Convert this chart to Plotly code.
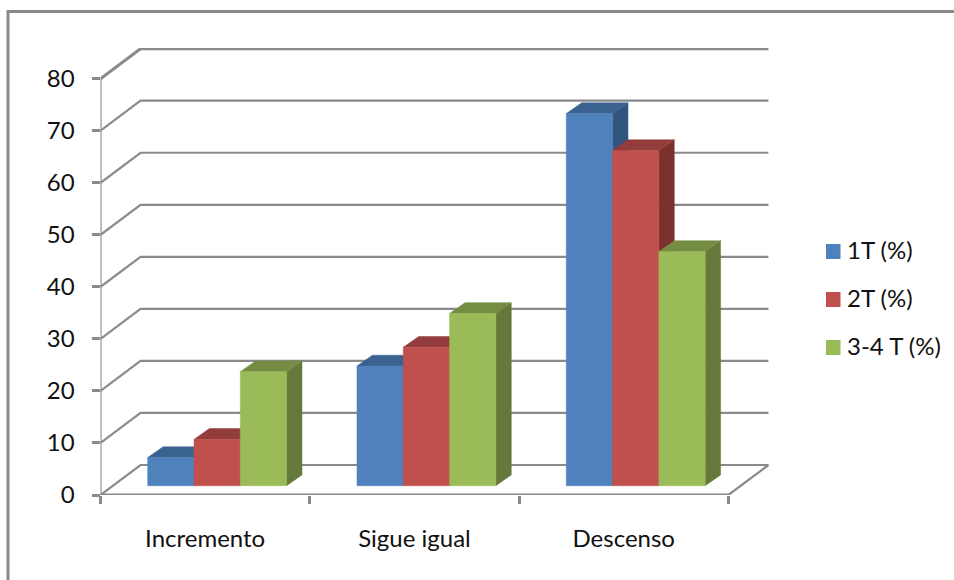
import plotly.graph_objects as go

categories = ["Incremento", "Sigue igual", "Descenso"]
series_names = ["1T (%)", "2T (%)", "3-4 T (%)"]
t1_values = [5.4, 23.0, 71.5]
t2_values = [8.9, 26.6, 64.4]
t34_values = [21.9, 33.1, 45.0]
y_ticks = [0, 10, 20, 30, 40, 50, 60, 70, 80]

W, H = 954, 580
GRID = "#8a8a8a"
FONT = dict(family="Lato, Carlito, sans-serif", size=24, color="#111111")

# pixel placement of the plot box
X0, CAT_W = 100.5, 209.3
Y0, UNIT = 495.0, 5.204
WALL_PX, WALL_PY = 40.0, 30.0

# oblique projection, expressed in axis units
wall_dx, wall_dy = WALL_PX / CAT_W, WALL_PY / UNIT
bar_dx, bar_dy = 15.4 / CAT_W, 10.8 / UNIT
plane_x, floor_y = 0.1695 + 11.7 / CAT_W, 9.3 / UNIT
bar_w = 46.3 / CAT_W

palette = [
    dict(front="#4F81BD", top="#3A6290", side="#325580"),
    dict(front="#C0504D", top="#923D3B", side="#7C302E"),
    dict(front="#9BBB59", top="#758D43", side="#65793A"),
]
values = [t1_values, t2_values, t34_values]

fig = go.Figure()


def line(xs, ys, width=2.0):
    fig.add_trace(go.Scatter(x=xs, y=ys, mode="lines", line=dict(color=GRID, width=width),
                             hoverinfo="skip", showlegend=False, cliponaxis=False))


def face(xs, ys, color, name):
    fig.add_trace(go.Scatter(x=xs + xs[:1], y=ys + ys[:1], mode="lines", fill="toself",
                             fillcolor=color, line=dict(color=color, width=0.5),
                             name=name, hoverinfo="name", showlegend=False))


# back wall gridlines and their diagonals running to the value axis
for v in y_ticks:
    width = 3.0 if v == 80 else 2.2
    line([0, wall_dx, len(categories) + wall_dx], [v, v + wall_dy, v + wall_dy], width)
line([len(categories), len(categories) + wall_dx], [0, wall_dy], 2.2)

# axis lines at the front of the floor
line([0, 0], [0, 80], 2.2)
line([0, len(categories)], [0, 0], 3.0)

# columns, left to right so nearer faces cover the earlier sides
for i, cat in enumerate(categories):
    for j, name in enumerate(series_names):
        c = palette[j]
        v = values[j][i]
        l = i + plane_x + j * bar_w
        r = l + bar_w
        b = floor_y
        t = floor_y + v
        label = f"{cat} - {name}: {v}"
        face([r, r + bar_dx, r + bar_dx, r], [b, b + bar_dy, t + bar_dy, t], c["side"], label)
        face([l, l + bar_dx, r + bar_dx, r], [t, t + bar_dy, t + bar_dy, t], c["top"], label)
        face([l, r, r, l], [b, b, t, t], c["front"], label)

# outer frame plus legend swatches and entries
shapes = [
    dict(type="line", xref="paper", yref="paper", x0=8 / W, x1=8 / W, y0=0, y1=1 - 10 / H,
         line=dict(color=GRID, width=3)),
    dict(type="line", xref="paper", yref="paper", x0=7 / W, x1=1, y0=1 - 11.5 / H, y1=1 - 11.5 / H,
         line=dict(color=GRID, width=3)),
]
annotations = []
for j, name in enumerate(series_names):
    top = 244 + j * 48
    shapes.append(dict(type="rect", xref="paper", yref="paper", x0=826 / W, x1=840.5 / W,
                       y0=1 - (top + 15) / H, y1=1 - top / H,
                       fillcolor=palette[j]["front"], line=dict(width=0)))
    annotations.append(dict(xref="paper", yref="paper", x=845 / W, y=1 - (top + 5) / H,
                            xanchor="left", yanchor="middle", text=name, showarrow=False, font=FONT))

fig.update_layout(
    width=W, height=H,
    margin=dict(l=0, r=0, t=0, b=0),
    paper_bgcolor="white", plot_bgcolor="rgba(0,0,0,0)",
    showlegend=False,
    shapes=shapes,
    annotations=annotations,
    font=FONT,
    xaxis=dict(
        domain=[X0 / W, 769 / W],
        range=[0, (769 - X0) / CAT_W],
        automargin=False,
        tickvals=[0.5, 1.5, 2.5], ticktext=categories, ticks="",
        ticklabelstandoff=27,
        minor=dict(tickmode="array", tickvals=[0, 1, 2, 3], ticks="outside",
                   ticklen=8, tickwidth=2.5, tickcolor=GRID, showgrid=False),
        showgrid=False, zeroline=False, showline=False, tickfont=FONT,
    ),
    yaxis=dict(
        domain=[1 - Y0 / H, 1 - 48 / H],
        range=[0, (Y0 - 48) / UNIT],
        automargin=False,
        tickvals=y_ticks, ticks="outside", ticklen=8, tickwidth=2.5, tickcolor=GRID,
        ticklabelstandoff=12,
        showgrid=False, zeroline=False, showline=False, tickfont=FONT,
    ),
)

fig.write_html("out.html")
